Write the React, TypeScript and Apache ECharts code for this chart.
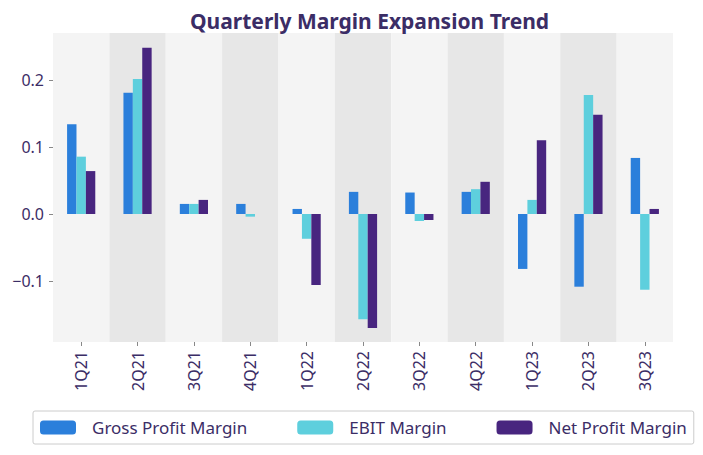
import React, { useEffect, useRef } from "react";
import * as echarts from "echarts";

const categories = ["1Q21", "2Q21", "3Q21", "4Q21", "1Q22", "2Q22", "3Q22", "4Q22", "1Q23", "2Q23", "3Q23"];
const grossProfitMargin = [0.134, 0.181, 0.015, 0.015, 0.0075, 0.033, 0.032, 0.033, -0.082, -0.1085, 0.0836];
const ebitMargin = [0.0855, 0.2015, 0.015, -0.004, -0.037, -0.157, -0.0105, 0.037, 0.021, 0.1776, -0.113];
const netProfitMargin = [0.064, 0.248, 0.021, 0.0, -0.106, -0.170, -0.009, 0.048, 0.110, 0.148, 0.0075];
const yTicks = [-0.1, 0.0, 0.1, 0.2];
const seriesNames = ["Gross Profit Margin", "EBIT Margin", "Net Profit Margin"];

const TEXT = "#3b2d66";
const FONT = "Noto Sans";

export default function App() {
  const ref = useRef<HTMLDivElement>(null);
  useEffect(() => {
    document.body.style.margin = "0";
    const chart = echarts.init(ref.current!, null, { renderer: "svg" });
    const bar = (name: string, data: number[], color: string) => ({
      name,
      type: "bar",
      data,
      barWidth: 9.4,
      barGap: "0%",
      itemStyle: { color },
    });
    chart.setOption({
      animation: false,
      textStyle: { fontFamily: FONT },
      title: {
        text: "Quarterly Margin Expansion Trend",
        left: 185,
        top: 5,
        textStyle: { color: TEXT, fontSize: 21, fontWeight: "bold", fontFamily: FONT },
      },
      grid: { left: 53, right: 30, top: 33, bottom: 113 },
      xAxis: {
        type: "category",
        data: categories,
        axisLine: { show: false, onZero: false },
        axisTick: { show: true, alignWithLabel: true, length: 4, lineStyle: { color: "#888" } },
        axisLabel: { rotate: 90, color: TEXT, fontSize: 16, margin: 9, fontFamily: FONT },
        splitArea: { show: true, areaStyle: { color: ["#f4f4f4", "#e7e7e7"] } },
        splitLine: { show: false },
      },
      yAxis: {
        type: "value",
        min: -0.191,
        max: 0.27,
        axisLine: { show: false },
        splitLine: { show: false },
        axisTick: { show: true, length: 4, customValues: yTicks, lineStyle: { color: "#888" } },
        axisLabel: {
          customValues: yTicks,
          color: TEXT,
          fontSize: 16,
          margin: 9,
          fontFamily: FONT,
          formatter: (v: number) => v.toFixed(1).replace("-", "\u2212"),
        },
      },
      legend: {
        top: 411,
        left: 33,
        itemWidth: 36,
        itemHeight: 14,
        itemGap: 50,
        padding: [8, 7, 8, 7],
        borderColor: "#cccccc",
        borderWidth: 1,
        borderRadius: 2,
        textStyle: { color: TEXT, fontSize: 17, fontFamily: FONT, padding: [0, 0, 0, 11] },
        data: seriesNames,
      },
      series: [
        bar(seriesNames[0], grossProfitMargin, "#2b7fdb"),
        bar(seriesNames[1], ebitMargin, "#5ecfdd"),
        bar(seriesNames[2], netProfitMargin, "#48257f"),
      ],
    });
    return () => chart.dispose();
  }, []);
  return <div ref={ref} style={{ width: 703, height: 455 }} />;
}
